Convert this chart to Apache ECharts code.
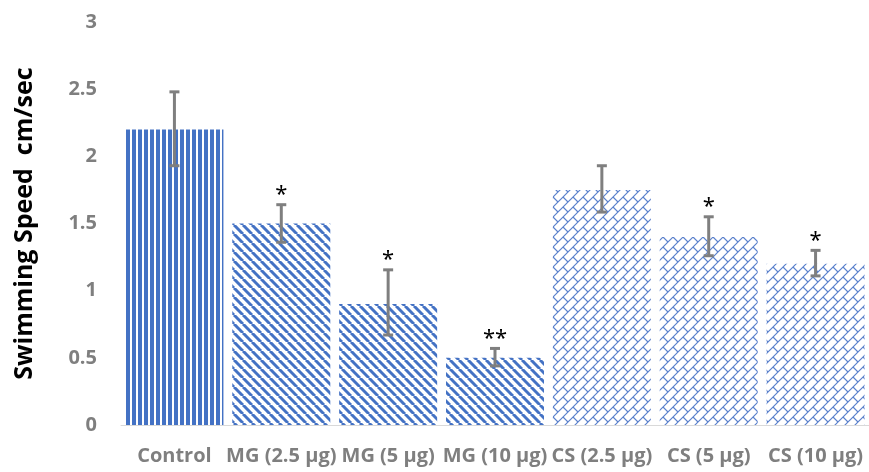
<!DOCTYPE html>
<html>
<head>
<meta charset="utf-8">
<script src="https://cdn.jsdelivr.net/npm/echarts@6/dist/echarts.min.js"></script>
<style>
html, body { margin: 0; padding: 0; background: #fff; }
#chart { width: 869px; height: 472px; }
</style>
</head>
<body>
<div id="chart"></div>
<script>
// 数据
const groups = ['Control', 'MG (2.5 µg)', 'MG (5 µg)', 'MG (10 µg)', 'CS (2.5 µg)', 'CS (5 µg)', 'CS (10 µg)'];
const speed = [2.2, 1.5, 0.9, 0.5, 1.75, 1.4, 1.2];
const errLow = [1.93, 1.36, 0.67, 0.44, 1.585, 1.26, 1.11];
const errHigh = [2.48, 1.64, 1.155, 0.57, 1.93, 1.55, 1.3];
const stars = ['', '*', '*', '**', '', '*', '*'];
const patternKind = ['vertical', 'diagonal', 'diagonal', 'diagonal', 'brick', 'brick', 'brick'];

const BLUE = '#4472c4';

// 图案填充
const makeTile = (size, draw) => {
    const c = document.createElement('canvas');
    c.width = size;
    c.height = size;
    draw(c.getContext('2d'), size);
    return { image: c, repeat: 'repeat' };
};

const patterns = {
    vertical: makeTile(6, (ctx, s) => {
        ctx.fillStyle = BLUE;
        ctx.fillRect(0, 0, 4, s);
    }),
    diagonal: makeTile(9, (ctx, s) => {
        ctx.strokeStyle = BLUE;
        ctx.lineWidth = 3;
        [-s, 0, s].forEach((d) => {
            ctx.beginPath();
            ctx.moveTo(d, 0);
            ctx.lineTo(d + s, s);
            ctx.stroke();
        });
    }),
    brick: makeTile(10, (ctx, s) => {
        ctx.strokeStyle = '#5a80cc';
        ctx.lineWidth = 1.2;
        [-s, 0, s].forEach((dx) => {
            [-s, 0, s].forEach((dy) => {
                ctx.beginPath();
                ctx.moveTo(dx, dy + s);
                ctx.lineTo(dx + s, dy);
                ctx.moveTo(dx + 3, dy + 7);
                ctx.lineTo(dx + 8, dy + 12);
                ctx.stroke();
            });
        });
    }),
};

const chart = echarts.init(document.getElementById('chart'));

chart.setOption({
    animation: false,
    grid: {
        left: 121,
        top: 22,
        bottom: 47,
        width: 752,
    },
    xAxis: {
        type: 'category',
        data: groups,
        axisLine: { lineStyle: { color: '#d9d9d9', width: 1 } },
        axisTick: { show: false },
        axisLabel: {
            interval: 0,
            margin: 21,
            fontFamily: 'Open Sans',
            fontWeight: 'bold',
            fontSize: 20,
            color: '#7f7f7f',
        },
    },
    yAxis: {
        type: 'value',
        min: 0,
        max: 3,
        interval: 0.5,
        name: 'Swimming Speed  cm/sec',
        nameLocation: 'middle',
        nameGap: 84,
        nameTextStyle: {
            fontFamily: 'Open Sans',
            fontWeight: 'bold',
            fontSize: 25,
            color: '#000',
        },
        axisLine: { show: false },
        axisTick: { show: false },
        splitLine: { show: false },
        axisLabel: {
            margin: 24,
            fontFamily: 'Open Sans',
            fontWeight: 'bold',
            fontSize: 20,
            color: '#7f7f7f',
        },
    },
    series: [
        {
            type: 'bar',
            barWidth: 98,
            data: speed.map((v, i) => ({
                value: v,
                itemStyle: { color: patterns[patternKind[i]] },
            })),
        },
        {
            type: 'custom',
            z: 5,
            data: groups.map((g, i) => [i, errLow[i], errHigh[i]]),
            renderItem: (params, api) => {
                const x = api.coord([api.value(0), 0])[0];
                const lo = api.coord([api.value(0), api.value(1)])[1];
                const hi = api.coord([api.value(0), api.value(2)])[1];
                const cap = 5;
                const style = { stroke: '#7f7f7f', lineWidth: 3 };
                return {
                    type: 'group',
                    children: [
                        { type: 'line', shape: { x1: x, y1: hi, x2: x, y2: lo }, style },
                        { type: 'line', shape: { x1: x - cap, y1: hi, x2: x + cap, y2: hi }, style },
                        { type: 'line', shape: { x1: x - cap, y1: lo, x2: x + cap, y2: lo }, style },
                        {
                            type: 'text',
                            style: {
                                text: stars[params.dataIndex],
                                x: x,
                                y: hi - 10,
                                align: 'center',
                                verticalAlign: 'middle',
                                font: '22px "Noto Sans"',
                                fill: '#000',
                            },
                        },
                    ],
                };
            },
        },
    ],
});
</script>
</body>
</html>
